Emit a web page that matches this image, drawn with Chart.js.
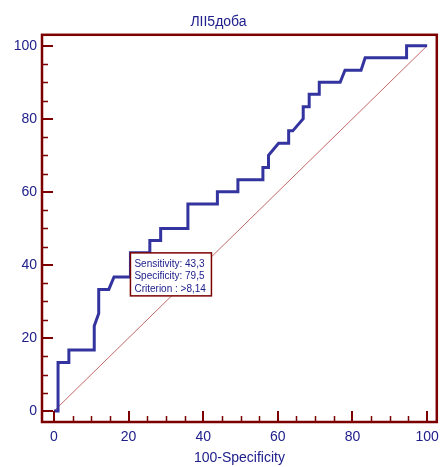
<!DOCTYPE html>
<html>
<head>
<meta charset="utf-8">
<script src="https://cdn.jsdelivr.net/npm/chart.js@4/dist/chart.umd.min.js"></script>
<style>
  html, body { margin: 0; padding: 0; background: #fff; }
</style>
</head>
<body>
<canvas id="rocChart" width="446" height="467"></canvas>
<script>
// ROC curve vertices (100-Specificity, Sensitivity)
const rocX = [0, 1.1, 1.1, 4.0, 4.0, 10.8, 10.8, 12.0, 12.0, 14.7, 16.1, 20.5, 20.5, 25.7, 25.7, 28.6, 28.6, 35.9, 35.9, 43.8, 43.8, 49.3, 49.3, 56.0, 56.0, 57.5, 57.5, 60.2, 62.9, 62.9, 64.0, 66.8, 66.8, 68.4, 68.4, 71.1, 71.1, 76.7, 78.0, 82.3, 83.4, 94.5, 94.5, 100];
const rocY = [0, 0, 13.3, 13.3, 16.7, 16.7, 23.3, 26.7, 33.3, 33.3, 36.7, 36.7, 43.3, 43.3, 46.7, 46.7, 50.0, 50.0, 56.7, 56.7, 60.0, 60.0, 63.3, 63.3, 66.7, 66.7, 70.0, 73.3, 73.3, 76.7, 76.7, 80.0, 83.3, 83.3, 86.7, 86.7, 90.0, 90.0, 93.3, 93.3, 96.7, 96.7, 100, 100];

const diagX = [0, 100];
const diagY = [0, 100];

// optimal criterion
const cutSens = 43.3;
const cutSpec = 79.5;
const cutCrit = '>8,14';

const majorTicks = [0, 20, 40, 60, 80, 100];
const minorTicks = [5, 10, 15, 25, 30, 35, 45, 50, 55, 65, 70, 75, 85, 90, 95];

const navy = '#20208c';
const curveBlue = '#3434a0';
const maroon = '#7d0000';
const fontFam = '"Liberation Sans", Arial, sans-serif';

function toPoints(xs, ys) {
    return xs.map((x, i) => ({ x: x, y: ys[i] }));
}

function fmt(v) {
    return v.toFixed(1).replace('.', ',');
}

// frame with inward tick marks
const frameTicks = {
    id: 'frameTicks',
    afterDatasetsDraw(chart) {
        const { ctx, chartArea: a, scales: { x, y } } = chart;
        ctx.save();
        ctx.strokeStyle = maroon;
        ctx.lineCap = 'butt';

        ctx.lineWidth = 1.5;
        minorTicks.forEach(v => {
            const px = Math.round(x.getPixelForValue(v)) + 0.5;
            const py = Math.round(y.getPixelForValue(v)) + 0.5;
            ctx.beginPath();
            ctx.moveTo(px, a.bottom); ctx.lineTo(px, a.bottom - 6);
            ctx.moveTo(a.left, py); ctx.lineTo(a.left + 6, py);
            ctx.stroke();
        });

        ctx.lineWidth = 2;
        majorTicks.forEach(v => {
            const px = Math.round(x.getPixelForValue(v));
            const py = Math.round(y.getPixelForValue(v));
            ctx.beginPath();
            ctx.moveTo(px, a.bottom); ctx.lineTo(px, a.bottom - 11);
            ctx.moveTo(a.left, py); ctx.lineTo(a.left + 11, py);
            ctx.stroke();
        });

        ctx.lineWidth = 2.5;
        ctx.strokeRect(a.left, a.top, a.right - a.left, a.bottom - a.top);
        ctx.restore();
    }
};

// label box at the criterion point
const criterionBox = {
    id: 'criterionBox',
    afterDatasetsDraw(chart) {
        const { ctx, scales: { x, y } } = chart;
        const bx = x.getPixelForValue(100 - cutSpec);
        const by = y.getPixelForValue(cutSens);
        const w = 81, h = 43;
        ctx.save();
        ctx.fillStyle = '#fff';
        ctx.fillRect(bx, by, w, h);
        ctx.strokeStyle = maroon;
        ctx.lineWidth = 1.5;
        ctx.strokeRect(bx, by, w, h);
        ctx.fillStyle = navy;
        ctx.font = '10px ' + fontFam;
        ctx.textBaseline = 'middle';
        ctx.fillText('Sensitivity: ' + fmt(cutSens), bx + 4, by + 11);
        ctx.fillText('Specificity: ' + fmt(cutSpec), bx + 4, by + 23.5);
        ctx.fillText('Criterion : ' + cutCrit, bx + 4, by + 36);
        ctx.restore();
    }
};

const ctx = document.getElementById('rocChart').getContext('2d');
new Chart(ctx, {
    type: 'scatter',
    data: {
        datasets: [
            {
                data: toPoints(diagX, diagY),
                showLine: true,
                borderColor: 'rgba(170, 40, 40, 0.7)',
                borderWidth: 1,
                pointRadius: 0,
                order: 2
            },
            {
                data: toPoints(rocX, rocY),
                showLine: true,
                borderColor: curveBlue,
                borderWidth: 3,
                borderJoinStyle: 'miter',
                pointRadius: 0,
                order: 1
            }
        ]
    },
    options: {
        responsive: false,
        animation: false,
        layout: { padding: { left: 0, right: 9, top: 0, bottom: 0 } },
        plugins: {
            legend: { display: false },
            tooltip: { enabled: false },
            title: {
                display: true,
                text: 'ЛІІ5доба',
                color: navy,
                font: { family: fontFam, size: 14, weight: 'normal' },
                padding: { top: 14, bottom: 4 }
            }
        },
        scales: {
            x: {
                type: 'linear',
                min: -3.2,
                max: 102.6,
                grid: { display: false, drawTicks: false },
                border: { display: false },
                afterBuildTicks: s => { s.ticks = majorTicks.map(v => ({ value: v })); },
                afterFit: s => { s.height = 45; },
                ticks: {
                    color: navy,
                    padding: 7,
                    maxRotation: 0,
                    autoSkip: false,
                    font: { family: fontFam, size: 14 }
                },
                title: {
                    display: true,
                    text: '100-Specificity',
                    color: navy,
                    padding: { top: 0, bottom: 0 },
                    font: { family: fontFam, size: 14 }
                }
            },
            y: {
                type: 'linear',
                min: -3,
                max: 103,
                grid: { display: false, drawTicks: false },
                border: { display: false },
                afterBuildTicks: s => { s.ticks = majorTicks.map(v => ({ value: v })); },
                afterFit: s => { s.width = 42; },
                ticks: {
                    color: navy,
                    padding: 5,
                    autoSkip: false,
                    font: { family: fontFam, size: 14 }
                }
            }
        }
    },
    plugins: [frameTicks, criterionBox]
});
</script>
</body>
</html>
